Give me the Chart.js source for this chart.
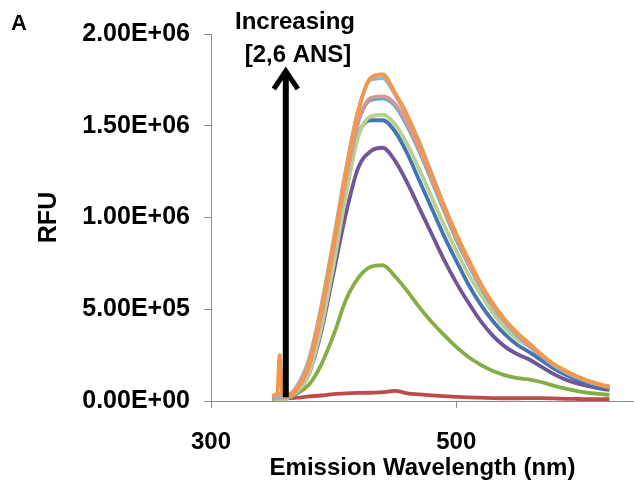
<!DOCTYPE html>
<html>
<head>
<meta charset="utf-8">
<script src="https://cdn.jsdelivr.net/npm/chart.js@4.4.1/dist/chart.umd.min.js"></script>
<style>
  html, body { margin: 0; padding: 0; background: #fff; }
</style>
</head>
<body>
<canvas id="chart" width="634" height="487"></canvas>
<script>
// emission wavelength (nm), shared by all spectra
const wavelength = [350, 354, 356, 358, 362, 370, 380, 390, 400, 410, 420, 430, 440, 450, 460, 470,
  480, 490, 500, 510, 520, 530, 540, 550, 560, 570, 580, 590, 600, 610, 620, 625];

// RFU values, in units of 1E+06 (lowest to highest [2,6 ANS])
const rfuRed = [0.01, 0.012, 0.012, 0.013, 0.015, 0.018, 0.025, 0.03, 0.038, 0.042, 0.044, 0.045, 0.048, 0.055, 0.042, 0.036,
  0.031, 0.027, 0.023, 0.02, 0.018, 0.016, 0.015, 0.015, 0.016, 0.016, 0.014, 0.012, 0.011, 0.01, 0.01, 0.01];
const rfuGreen = [0.005, 0.008, 0.01, 0.01, 0.015, 0.04, 0.09, 0.20, 0.36, 0.55, 0.67, 0.73, 0.74, 0.68, 0.60, 0.51,
  0.43, 0.36, 0.295, 0.24, 0.197, 0.163, 0.14, 0.125, 0.117, 0.102, 0.082, 0.066, 0.053, 0.043, 0.036, 0.033];
const rfuPurple = [0.01, 0.015, 0.015, 0.015, 0.02, 0.05, 0.15, 0.38, 0.70, 1.02, 1.27, 1.36, 1.38, 1.31, 1.19, 1.05,
  0.91, 0.77, 0.645, 0.535, 0.435, 0.355, 0.295, 0.255, 0.225, 0.185, 0.145, 0.115, 0.093, 0.078, 0.065, 0.06];
const rfuBlue = [0.015, 0.02, 0.02, 0.02, 0.025, 0.07, 0.19, 0.46, 0.80, 1.16, 1.45, 1.53, 1.53, 1.47, 1.35, 1.20,
  1.05, 0.90, 0.765, 0.635, 0.525, 0.435, 0.362, 0.305, 0.265, 0.22, 0.175, 0.14, 0.112, 0.09, 0.075, 0.07];
const rfuLightGreen = [0.005, 0.01, 0.01, 0.01, 0.015, 0.05, 0.15, 0.40, 0.74, 1.12, 1.44, 1.55, 1.56, 1.51, 1.40, 1.26,
  1.11, 0.96, 0.82, 0.69, 0.58, 0.48, 0.395, 0.335, 0.295, 0.245, 0.195, 0.155, 0.125, 0.10, 0.085, 0.078];
const rfuAqua = [0.01, 0.02, 0.02, 0.02, 0.02, 0.07, 0.21, 0.50, 0.86, 1.22, 1.52, 1.64, 1.65, 1.61, 1.50, 1.36,
  1.20, 1.04, 0.88, 0.745, 0.62, 0.515, 0.427, 0.357, 0.298, 0.243, 0.193, 0.154, 0.127, 0.102, 0.083, 0.076];
const rfuPink = [0.01, 0.02, 0.02, 0.02, 0.02, 0.06, 0.19, 0.47, 0.83, 1.21, 1.52, 1.65, 1.66, 1.62, 1.51, 1.37,
  1.21, 1.05, 0.89, 0.75, 0.625, 0.52, 0.43, 0.36, 0.30, 0.245, 0.195, 0.155, 0.128, 0.103, 0.084, 0.077];
const rfuLightBlue = [0.02, 0.03, 0.04, 0.03, 0.03, 0.08, 0.23, 0.52, 0.88, 1.26, 1.58, 1.75, 1.76, 1.67, 1.55, 1.41,
  1.24, 1.07, 0.91, 0.765, 0.635, 0.53, 0.44, 0.365, 0.31, 0.25, 0.195, 0.16, 0.13, 0.105, 0.085, 0.078];
const rfuOrange = [0.03, 0.04, 0.25, 0.04, 0.03, 0.07, 0.21, 0.50, 0.86, 1.25, 1.58, 1.76, 1.78, 1.68, 1.56, 1.40,
  1.23, 1.06, 0.91, 0.77, 0.64, 0.53, 0.44, 0.37, 0.31, 0.25, 0.20, 0.163, 0.13, 0.105, 0.085, 0.078];

// axis ticks
const xTicks = [300, 500];
const yTicks = [0, 0.5, 1, 1.5, 2];
const yTickLabels = ['0.00E+00', '5.00E+05', '1.00E+06', '1.50E+06', '2.00E+06'];

const FONT = 'Liberation Sans, Arial, sans-serif';
const AXIS_GREY = '#8c8c8c';

function points(values) {
  return wavelength.map((w, i) => ({ x: w, y: values[i] }));
}

// first dataset ends up on top
const series = [
  { values: rfuOrange, color: '#F79646' },
  { values: rfuLightBlue, color: '#95B3D7' },
  { values: rfuPink, color: '#D99694' },
  { values: rfuAqua, color: '#4BACC6' },
  { values: rfuLightGreen, color: '#B9D08F' },
  { values: rfuBlue, color: '#4474B3' },
  { values: rfuPurple, color: '#70559A' },
  { values: rfuGreen, color: '#84AD45' },
  { values: rfuRed, color: '#BE4B48' },
];

// the "A", the arrow and its label
const annotations = {
  id: 'annotations',
  afterDatasetsDraw(chart) {
    const ctx = chart.ctx;
    const x = chart.scales.x;
    const y = chart.scales.y;
    ctx.save();
    ctx.fillStyle = '#000';
    ctx.strokeStyle = '#000';
    ctx.textBaseline = 'middle';

    ctx.font = 'bold 22px ' + FONT;
    ctx.textAlign = 'left';
    ctx.fillText('A', 11, 24);

    ctx.font = 'bold 24px ' + FONT;
    ctx.textAlign = 'center';
    ctx.fillText('Increasing', 295, 22);
    ctx.fillText('[2,6 ANS]', 298, 55);

    const ax = x.getPixelForValue(361);
    const top = 68;
    ctx.lineWidth = 6;
    ctx.beginPath();
    ctx.moveTo(ax, y.getPixelForValue(0.02));
    ctx.lineTo(ax, top + 3);
    ctx.stroke();
    ctx.lineWidth = 5;
    ctx.lineJoin = 'miter';
    ctx.beginPath();
    ctx.moveTo(ax - 12, top + 21);
    ctx.lineTo(ax, top + 3);
    ctx.lineTo(ax + 12, top + 21);
    ctx.stroke();
    ctx.restore();
  }
};

new Chart(document.getElementById('chart'), {
  type: 'line',
  data: {
    datasets: series.map(s => ({
      data: points(s.values),
      borderColor: s.color,
      backgroundColor: s.color,
      borderWidth: 3.8,
      pointRadius: 0,
      fill: false,
      cubicInterpolationMode: 'monotone',
    })),
  },
  options: {
    responsive: false,
    animation: false,
    layout: { padding: { left: 0, right: 0, top: 34, bottom: 0 } },
    plugins: {
      legend: { display: false },
      tooltip: { enabled: false },
    },
    scales: {
      x: {
        type: 'linear',
        min: 300,
        max: 645,
        afterBuildTicks: s => { s.ticks = xTicks.map(v => ({ value: v })); },
        afterFit: s => { s.height = 86; },
        grid: { drawOnChartArea: false, tickLength: 7, color: AXIS_GREY },
        border: { color: AXIS_GREY, width: 1 },
        ticks: {
          color: '#000',
          font: { family: FONT, size: 24, weight: 'bold' },
          padding: 20,
          maxRotation: 0,
        },
        title: {
          display: true,
          text: 'Emission Wavelength (nm)',
          color: '#000',
          font: { family: FONT, size: 24, weight: 'bold' },
          padding: { top: 0, bottom: 4 },
        },
      },
      y: {
        min: 0,
        max: 2,
        afterBuildTicks: s => { s.ticks = yTicks.map(v => ({ value: v })); },
        afterFit: s => { s.width = 211; },
        grid: { drawOnChartArea: false, tickLength: 7, color: AXIS_GREY },
        border: { color: AXIS_GREY, width: 1 },
        ticks: {
          color: '#000',
          font: { family: FONT, size: 25, weight: 'bold' },
          padding: 14,
          callback: v => yTickLabels[yTicks.indexOf(v)],
        },
        title: {
          display: true,
          text: 'RFU',
          color: '#000',
          font: { family: FONT, size: 25, weight: 'bold' },
          padding: { top: 34, bottom: 0 },
        },
      },
    },
  },
  plugins: [annotations],
});
</script>
</body>
</html>
